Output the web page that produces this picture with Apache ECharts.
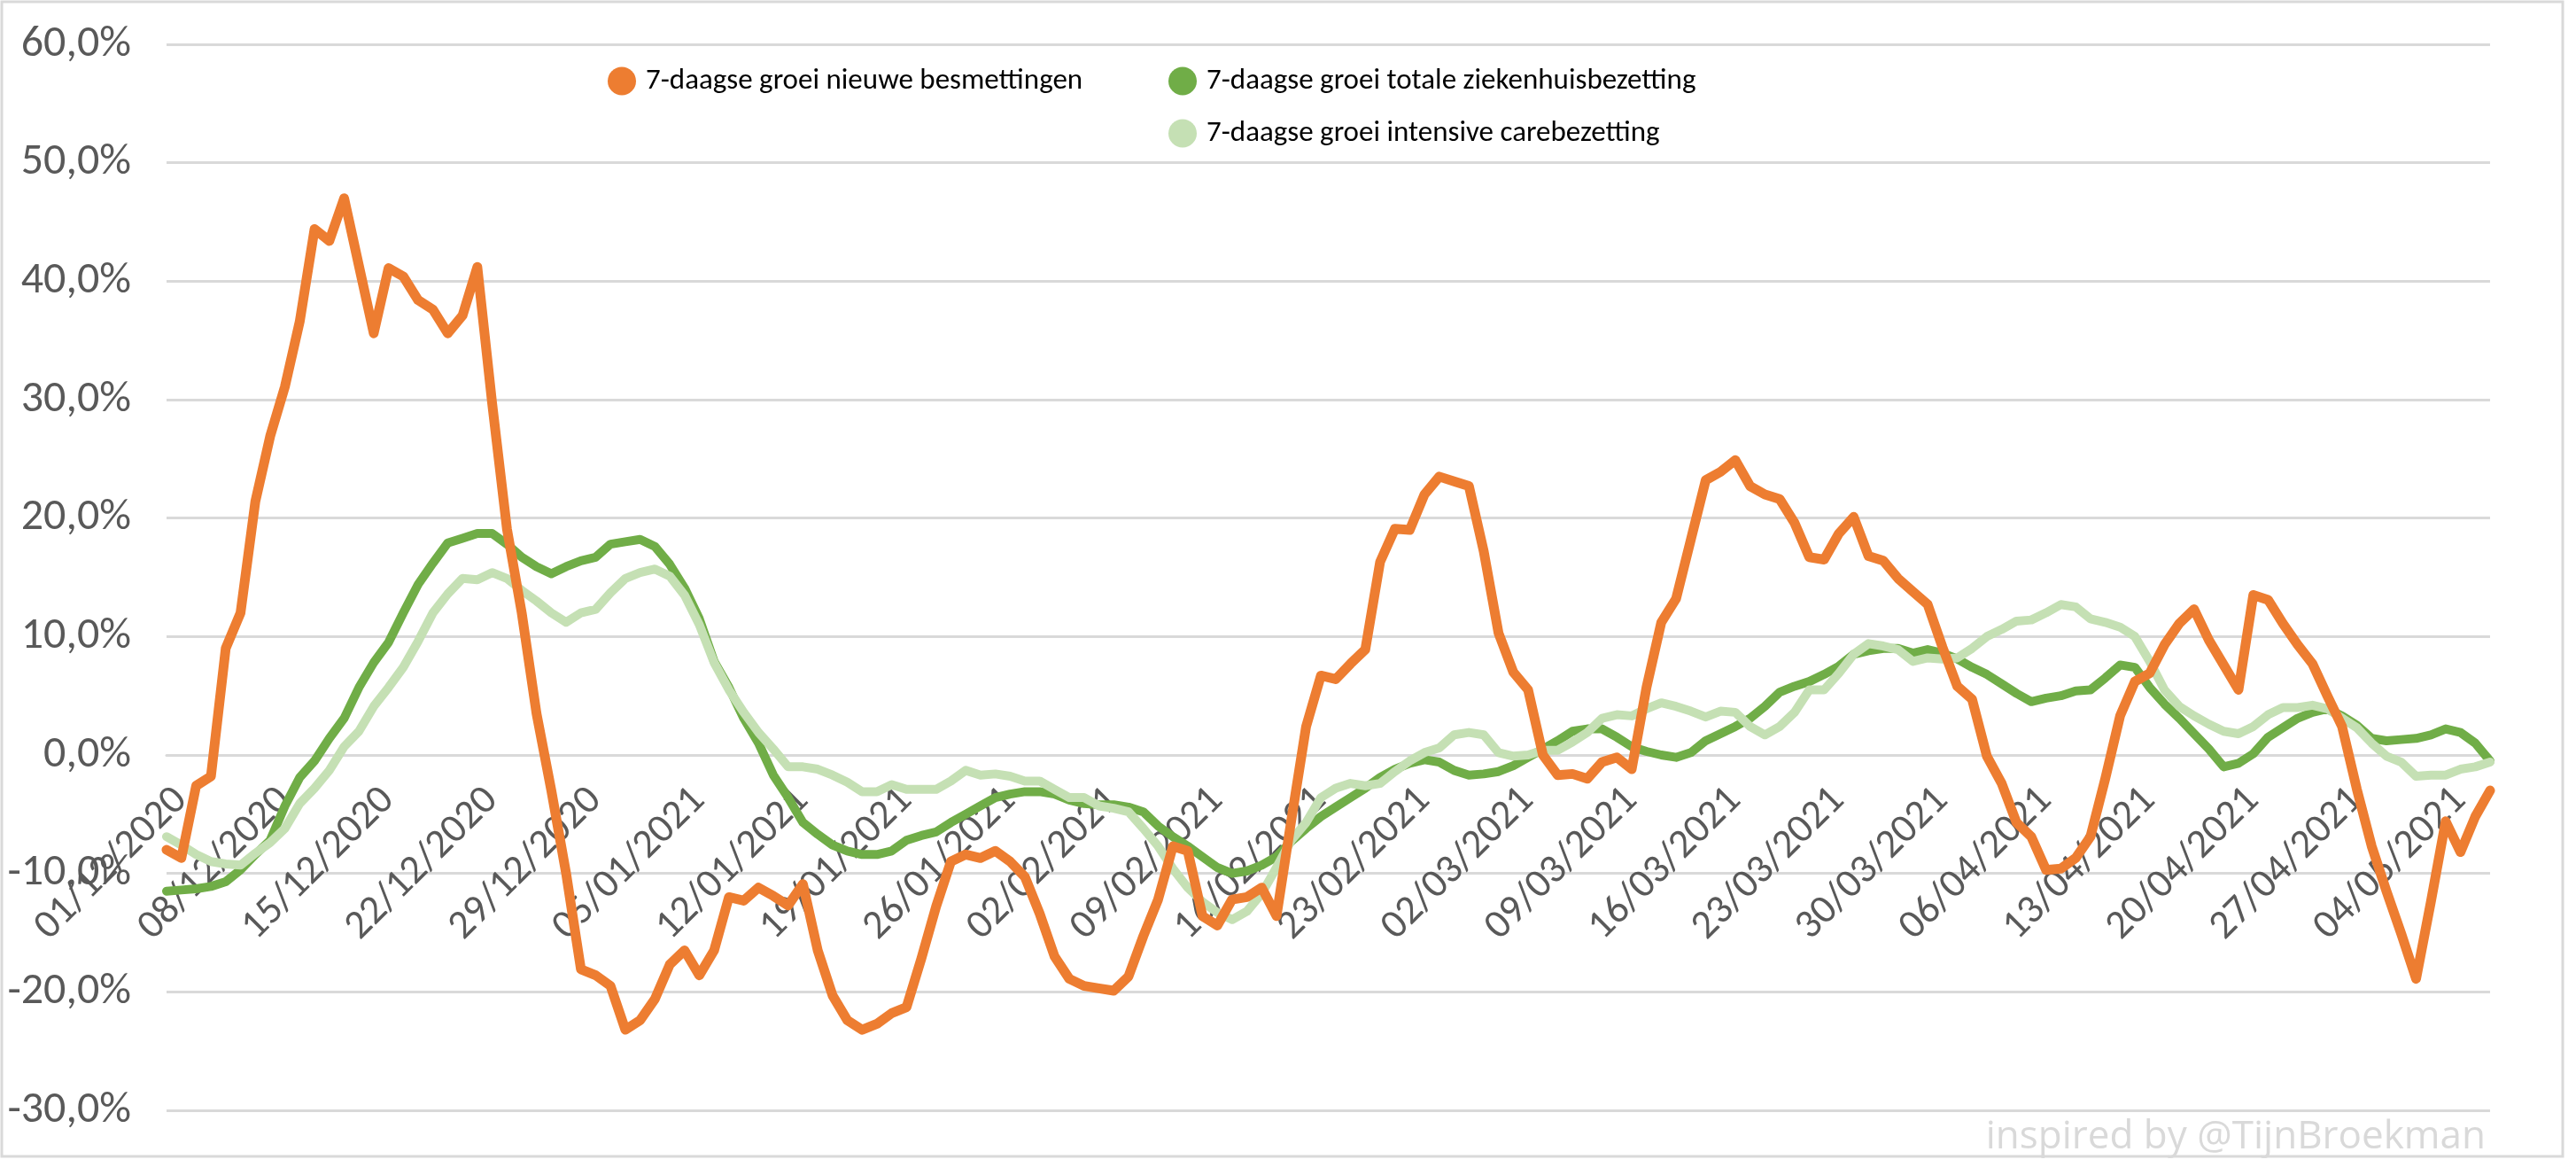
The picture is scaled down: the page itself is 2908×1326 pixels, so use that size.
<!DOCTYPE html>
<html>
<head>
<meta charset="utf-8">
<script src="https://cdn.jsdelivr.net/npm/echarts@6/dist/echarts.min.js"></script>
<style>
html,body{margin:0;padding:0;background:#fff;}
#chart{width:2908px;height:1326px;}
</style>
</head>
<body>
<div id="chart"></div>
<script>
// ---- DATA ----
const categories = [
'01/12/2020','02/12/2020','03/12/2020','04/12/2020','05/12/2020','06/12/2020','07/12/2020','08/12/2020','09/12/2020','10/12/2020',
'11/12/2020','12/12/2020','13/12/2020','14/12/2020','15/12/2020','16/12/2020','17/12/2020','18/12/2020','19/12/2020','20/12/2020',
'21/12/2020','22/12/2020','23/12/2020','24/12/2020','25/12/2020','26/12/2020','27/12/2020','28/12/2020','29/12/2020','30/12/2020',
'31/12/2020','01/01/2021','02/01/2021','03/01/2021','04/01/2021','05/01/2021','06/01/2021','07/01/2021','08/01/2021','09/01/2021',
'10/01/2021','11/01/2021','12/01/2021','13/01/2021','14/01/2021','15/01/2021','16/01/2021','17/01/2021','18/01/2021','19/01/2021',
'20/01/2021','21/01/2021','22/01/2021','23/01/2021','24/01/2021','25/01/2021','26/01/2021','27/01/2021','28/01/2021','29/01/2021',
'30/01/2021','31/01/2021','01/02/2021','02/02/2021','03/02/2021','04/02/2021','05/02/2021','06/02/2021','07/02/2021','08/02/2021',
'09/02/2021','10/02/2021','11/02/2021','12/02/2021','13/02/2021','14/02/2021','15/02/2021','16/02/2021','17/02/2021','18/02/2021',
'19/02/2021','20/02/2021','21/02/2021','22/02/2021','23/02/2021','24/02/2021','25/02/2021','26/02/2021','27/02/2021','28/02/2021',
'01/03/2021','02/03/2021','03/03/2021','04/03/2021','05/03/2021','06/03/2021','07/03/2021','08/03/2021','09/03/2021','10/03/2021',
'11/03/2021','12/03/2021','13/03/2021','14/03/2021','15/03/2021','16/03/2021','17/03/2021','18/03/2021','19/03/2021','20/03/2021',
'21/03/2021','22/03/2021','23/03/2021','24/03/2021','25/03/2021','26/03/2021','27/03/2021','28/03/2021','29/03/2021','30/03/2021',
'31/03/2021','01/04/2021','02/04/2021','03/04/2021','04/04/2021','05/04/2021','06/04/2021','07/04/2021','08/04/2021','09/04/2021',
'10/04/2021','11/04/2021','12/04/2021','13/04/2021','14/04/2021','15/04/2021','16/04/2021','17/04/2021','18/04/2021','19/04/2021',
'20/04/2021','21/04/2021','22/04/2021','23/04/2021','24/04/2021','25/04/2021','26/04/2021','27/04/2021','28/04/2021','29/04/2021',
'30/04/2021','01/05/2021','02/05/2021','03/05/2021','04/05/2021','05/05/2021','06/05/2021','07/05/2021'
];

const seriesNames = [
  '7-daagse groei nieuwe besmettingen',
  '7-daagse groei totale ziekenhuisbezetting',
  '7-daagse groei intensive carebezetting'
];

// percent values
const besmettingen = [
-8.0,-8.7,-2.6,-1.8,9.0,12.0,21.4,26.9,31.1,36.6,
44.4,43.4,47.0,41.3,35.6,41.1,40.4,38.4,37.6,35.6,
37.1,41.2,29.7,19.1,12.0,3.5,-3.0,-10.0,-18.1,-18.6,
-19.5,-23.2,-22.4,-20.6,-17.7,-16.5,-18.6,-16.5,-12.0,-12.3,
-11.2,-11.9,-12.7,-10.9,-16.5,-20.3,-22.4,-23.2,-22.7,-21.8,
-21.3,-17.2,-12.8,-9.0,-8.4,-8.7,-8.1,-9.0,-10.3,-13.4,
-17.0,-18.9,-19.5,-19.7,-19.9,-18.7,-15.3,-12.2,-7.7,-8.1,
-13.6,-14.4,-12.2,-12.0,-11.2,-13.6,-5.5,2.4,6.7,6.4,
7.7,8.9,16.3,19.1,19.0,22.0,23.5,23.1,22.7,17.2,
10.3,7.0,5.5,0.0,-1.7,-1.6,-2.0,-0.6,-0.2,-1.2,
5.7,11.2,13.2,18.2,23.2,23.9,24.9,22.7,22.0,21.6,
19.6,16.7,16.5,18.7,20.1,16.8,16.4,14.9,13.8,12.7,
9.1,5.8,4.7,-0.1,-2.4,-5.7,-6.9,-9.7,-9.6,-8.7,
-6.9,-2.0,3.3,6.2,6.9,9.3,11.1,12.3,9.7,7.6,
5.5,13.5,13.1,11.1,9.3,7.7,5.0,2.4,-2.9,-7.7,
-11.5,-15.1,-18.9,-12.4,-5.6,-8.2,-5.2,-3.0
];

const ziekenhuis = [
-11.5,-11.4,-11.3,-11.1,-10.7,-9.7,-8.4,-7.2,-4.3,-1.9,
-0.5,1.4,3.1,5.7,7.8,9.5,12.0,14.4,16.2,17.9,
18.3,18.7,18.7,17.8,16.7,15.9,15.3,15.9,16.4,16.7,
17.8,18.0,18.2,17.6,16.1,14.1,11.5,7.9,5.7,3.1,
1.0,-1.7,-3.6,-5.7,-6.7,-7.6,-8.1,-8.4,-8.4,-8.1,
-7.2,-6.8,-6.5,-5.7,-5.0,-4.3,-3.6,-3.3,-3.1,-3.1,
-3.3,-3.8,-4.1,-4.2,-4.2,-4.4,-4.8,-6.0,-6.9,-7.7,
-8.6,-9.5,-10.0,-9.8,-9.3,-8.6,-7.3,-6.2,-5.2,-4.4,
-3.6,-2.8,-1.9,-1.2,-0.7,-0.4,-0.6,-1.3,-1.7,-1.6,
-1.4,-0.9,-0.2,0.5,1.2,2.0,2.2,2.2,1.5,0.7,
0.3,0.0,-0.2,0.2,1.2,1.8,2.4,3.1,4.1,5.3,
5.8,6.2,6.8,7.5,8.5,8.8,9.0,9.0,8.6,8.9,
8.6,8.1,7.4,6.8,6.0,5.2,4.5,4.8,5.0,5.4,
5.5,6.5,7.6,7.4,5.7,4.3,3.1,1.8,0.5,-1.0,
-0.7,0.1,1.5,2.3,3.1,3.6,3.9,3.3,2.5,1.4,
1.2,1.3,1.4,1.7,2.2,1.9,1.0,-0.5
];

const intensiveCare = [
-6.9,-7.6,-8.4,-9.0,-9.2,-9.3,-8.3,-7.4,-6.2,-4.1,
-2.8,-1.3,0.7,2.0,4.1,5.7,7.4,9.6,12.0,13.6,
14.9,14.8,15.4,14.9,13.9,13.0,12.0,11.2,12.0,12.3,
13.7,14.9,15.4,15.7,15.1,13.5,11.0,7.8,5.5,3.6,
1.9,0.5,-1.0,-1.0,-1.2,-1.7,-2.3,-3.1,-3.1,-2.5,
-2.9,-2.9,-2.9,-2.2,-1.3,-1.7,-1.6,-1.8,-2.2,-2.2,
-2.9,-3.6,-3.6,-4.3,-4.5,-4.8,-6.2,-7.7,-9.6,-11.2,
-12.4,-13.3,-13.9,-13.2,-11.7,-9.5,-7.2,-5.7,-3.6,-2.8,
-2.4,-2.6,-2.4,-1.4,-0.5,0.2,0.6,1.7,1.9,1.7,
0.2,-0.1,0.0,0.4,0.4,1.1,1.9,3.1,3.4,3.3,
3.9,4.4,4.1,3.7,3.2,3.7,3.6,2.4,1.7,2.4,
3.6,5.5,5.5,6.9,8.5,9.4,9.2,8.9,7.9,8.2,
8.1,8.2,9.0,10.0,10.6,11.3,11.4,12.0,12.7,12.5,
11.5,11.2,10.8,10.0,7.9,5.5,4.1,3.3,2.6,2.0,
1.8,2.4,3.4,4.0,4.0,4.2,3.9,3.1,2.3,1.0,
-0.1,-0.6,-1.8,-1.7,-1.7,-1.2,-1.0,-0.6
];

const yTicks = { min: -30, max: 60, interval: 10 };
const watermark = 'inspired by @TijnBroekman';

// ---- CHART ----
const colors = ['#ED7D31', '#70AD47', '#C5E0B4'];
const FONT = 'Carlito, Lato, sans-serif';

const GRID_TOP = 50, GRID_BOTTOM_PX = 1253;
const plotH = GRID_BOTTOM_PX - GRID_TOP;
// distance from bottom of grid to the zero line (axis crosses at 0)
const zeroOffset = plotH * (0 - yTicks.min) / (yTicks.max - yTicks.min);

const chart = echarts.init(document.getElementById('chart'), null, { renderer: 'canvas' });

function legendAt(name, left, top) {
  return {
    data: [name],
    left: left, top: top,
    orient: 'horizontal',
    icon: 'circle',
    itemWidth: 44, itemHeight: 32,
    itemGap: 0,
    selectedMode: false,
    textStyle: { fontFamily: FONT, fontSize: 33, color: '#000' }
  };
}

const option = {
  backgroundColor: '#ffffff',
  animation: false,
  color: colors,
  grid: { left: 188, right: 97, top: GRID_TOP, bottom: 1326 - GRID_BOTTOM_PX, containLabel: false, outerBoundsMode: 'none' },
  legend: [
    legendAt(seriesNames[0], 681, 70),
    legendAt(seriesNames[1], 1314, 70),
    legendAt(seriesNames[2], 1314, 129)
  ],
  xAxis: {
    type: 'category',
    data: categories,
    boundaryGap: false,
    position: 'bottom',
    offset: -zeroOffset,
    axisLine: { show: true, onZero: false, lineStyle: { color: '#D9D9D9', width: 3 } },
    axisTick: { show: false },
    axisLabel: {
      interval: 6,
      rotate: 45,
      margin: 28,
      align: 'right',
      verticalAlign: 'top',
      fontFamily: FONT,
      fontSize: 46,
      color: '#595959'
    },
    splitLine: { show: false }
  },
  yAxis: {
    type: 'value',
    min: yTicks.min, max: yTicks.max, interval: yTicks.interval,
    axisLine: { show: false },
    axisTick: { show: false },
    axisLabel: {
      margin: 40,
      fontFamily: FONT,
      fontSize: 50,
      color: '#595959',
      formatter: v => v.toFixed(1).replace('.', ',') + '%'
    },
    splitLine: { lineStyle: { color: '#D9D9D9', width: 3 } }
  },
  series: [
    {
      name: seriesNames[1], type: 'line', data: ziekenhuis,
      symbol: 'none', color: colors[1],
      lineStyle: { width: 10, color: colors[1], join: 'round', cap: 'round' }, z: 2
    },
    {
      name: seriesNames[2], type: 'line', data: intensiveCare,
      symbol: 'none', color: colors[2],
      lineStyle: { width: 10, color: colors[2], join: 'round', cap: 'round' }, z: 3
    },
    {
      name: seriesNames[0], type: 'line', data: besmettingen,
      symbol: 'none', color: colors[0],
      lineStyle: { width: 11, color: colors[0], join: 'round', cap: 'round' }, z: 4
    }
  ],
  graphic: [
    {
      type: 'rect', z: -1, silent: true,
      shape: { x: 2, y: 2, width: 2891, height: 1303 },
      style: { fill: 'none', stroke: '#D9D9D9', lineWidth: 3 }
    },
    {
      type: 'text', silent: true,
      style: {
        text: watermark, x: 2806, y: 1283,
        textAlign: 'right', textVerticalAlign: 'middle',
        fontFamily: '"Open Sans", sans-serif', fontSize: 44, fill: '#D9D9D9'
      }
    }
  ]
};

chart.setOption(option);
</script>
</body>
</html>
